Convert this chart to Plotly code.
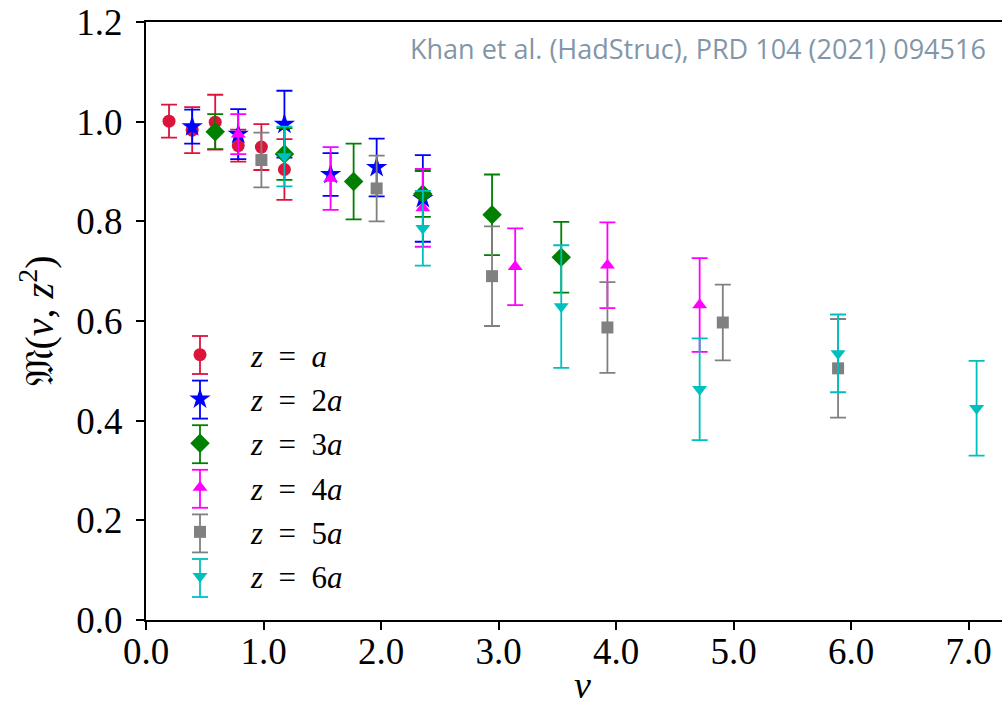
import plotly.graph_objects as go

# nu values (nu = 2*pi*p*z/L)
nu_z1 = [0.196, 0.393, 0.589, 0.785, 0.982, 1.178]
m_z1 = [1.001, 0.983, 0.999, 0.952, 0.949, 0.904]
e_z1 = [0.033, 0.046, 0.055, 0.032, 0.046, 0.061]

nu_z2 = [0.393, 0.785, 1.178, 1.571, 1.963, 2.356]
m_z2 = [0.990, 0.975, 0.995, 0.894, 0.908, 0.846]
e_z2 = [0.034, 0.050, 0.067, 0.043, 0.058, 0.087]

nu_z3 = [0.589, 1.178, 1.767, 2.356, 2.945, 3.534]
m_z3 = [0.980, 0.935, 0.880, 0.855, 0.813, 0.728]
e_z3 = [0.035, 0.052, 0.076, 0.046, 0.081, 0.071]

nu_z4 = [0.785, 1.571, 2.356, 3.142, 3.927, 4.712]
m_z4 = [0.975, 0.886, 0.827, 0.709, 0.712, 0.632]
e_z4 = [0.040, 0.063, 0.078, 0.077, 0.086, 0.094]

nu_z5 = [0.982, 1.963, 2.945, 3.927, 4.909, 5.890]
m_z5 = [0.923, 0.866, 0.690, 0.587, 0.597, 0.505]
e_z5 = [0.055, 0.066, 0.100, 0.091, 0.076, 0.099]

nu_z6 = [1.178, 2.356, 3.534, 4.712, 5.890, 7.069]
m_z6 = [0.930, 0.786, 0.629, 0.463, 0.535, 0.425]
e_z6 = [0.060, 0.075, 0.123, 0.102, 0.078, 0.095]

NB = "\u00a0"
labels = [f"<i>z</i>{NB*2}={NB*2}<i>a</i>", f"<i>z</i>{NB*2}={NB*2}2<i>a</i>",
          f"<i>z</i>{NB*2}={NB*2}3<i>a</i>", f"<i>z</i>{NB*2}={NB*2}4<i>a</i>",
          f"<i>z</i>{NB*2}={NB*2}5<i>a</i>", f"<i>z</i>{NB*2}={NB*2}6<i>a</i>"]
colors = ["#DC143C", "#0000FF", "#008000", "#FF00FF", "#808080", "#00BFBF"]
symbols = ["circle", "star", "diamond", "triangle-up", "square", "triangle-down"]
sizes = [13, 16, 15, 13, 12, 13]

series = [(nu_z1, m_z1, e_z1), (nu_z2, m_z2, e_z2), (nu_z3, m_z3, e_z3),
          (nu_z4, m_z4, e_z4), (nu_z5, m_z5, e_z5), (nu_z6, m_z6, e_z6)]

xticks = [0, 1, 2, 3, 4, 5, 6, 7]
yticks = [0.0, 0.2, 0.4, 0.6, 0.8, 1.0, 1.2]

SERIF = "Liberation Serif"
PLOT_W = 1010 - 146  # plot area runs past the right edge of the window (cropped, as in the reference)

fig = go.Figure()
for i, (x, y, e) in enumerate(series):
    fig.add_trace(go.Scatter(
        x=x, y=y, mode="markers", name=NB * 4 + labels[i],
        legendgroup=f"g{i}",
        marker=dict(symbol=symbols[i], size=sizes[i], color=colors[i], line=dict(width=0)),
        error_y=dict(type="data", array=e, visible=True, color=colors[i],
                     thickness=1.8, width=8),
    ))

# error-bar glyphs for the legend entries (decoration, pixel sized around legend markers)
LEG_X = (200 - 146) / PLOT_W
PLOT_TOP, PLOT_H = 22, 598
for k, c in enumerate(colors):
    cy = 355 + 44.6 * k
    ya = (PLOT_TOP + PLOT_H - cy) / PLOT_H
    common = dict(xref="paper", yref="paper", xsizemode="pixel", ysizemode="pixel",
                  xanchor=LEG_X, yanchor=ya, line=dict(color=c, width=1.8), layer="above")
    fig.add_shape(type="line", x0=0, x1=0, y0=-19, y1=19, **common)
    fig.add_shape(type="line", x0=-8, x1=8, y0=19, y1=19, **common)
    fig.add_shape(type="line", x0=-8, x1=8, y0=-19, y1=-19, **common)

fig.add_annotation(x=(988 - 146) / PLOT_W, y=0.955, xref="paper", yref="paper", xanchor="right",
                   yanchor="middle", showarrow=False,
                   text="Khan et al. (HadStruc), PRD 104 (2021) 094516",
                   font=dict(family="Open Sans", size=27, color="#8296a8"))

# x-axis title placed as annotation for precise positioning
fig.add_annotation(x=(582 - 146) / PLOT_W, y=-0.108, xref="paper", yref="paper", xanchor="center",
                   yanchor="middle", showarrow=False, text="<i>ν</i>",
                   font=dict(family=SERIF, size=38, color="black"))

fig.update_layout(
    width=1010, height=706,
    margin=dict(l=146, r=0, t=22, b=86),
    plot_bgcolor="white", paper_bgcolor="white",
    showlegend=True,
    legend=dict(x=(180 - 146) / PLOT_W, y=0.4883, xanchor="left", yanchor="top",
                font=dict(family=SERIF, size=31, color="black"),
                bgcolor="rgba(0,0,0,0)", tracegroupgap=1, itemsizing="trace"),
    xaxis=dict(range=[0, PLOT_W / 117.5], tickvals=xticks, ticktext=[f"{v:.1f}" for v in xticks],
               showline=True, linecolor="black", linewidth=2, mirror=True,
               ticks="outside", ticklen=8, tickwidth=1.5, tickcolor="black",
               showgrid=False, zeroline=False, automargin=False,
               ticklabelstandoff=-10, ticklabeloverflow="allow",
               tickfont=dict(family=SERIF, size=37, color="black")),
    yaxis=dict(range=[0, 1.2], tickvals=yticks, ticktext=[f"{v:.1f}" for v in yticks],
               showline=True, linecolor="black", linewidth=2, mirror=False,
               ticks="outside", ticklen=8, tickwidth=1.5, tickcolor="black",
               showgrid=False, zeroline=False, automargin=False,
               ticklabelstandoff=6, ticklabeloverflow="allow",
               tickfont=dict(family=SERIF, size=37, color="black"),
               title=dict(text="𝔐(<i>ν</i>, <i>z</i><sup>2</sup>)",
                          font=dict(family=SERIF, size=40, color="black"),
                          standoff=10)),
)

fig.write_html("out.html", config={"displayModeBar": False},
               post_script="document.body.style.margin='0';document.body.style.overflow='hidden';")
